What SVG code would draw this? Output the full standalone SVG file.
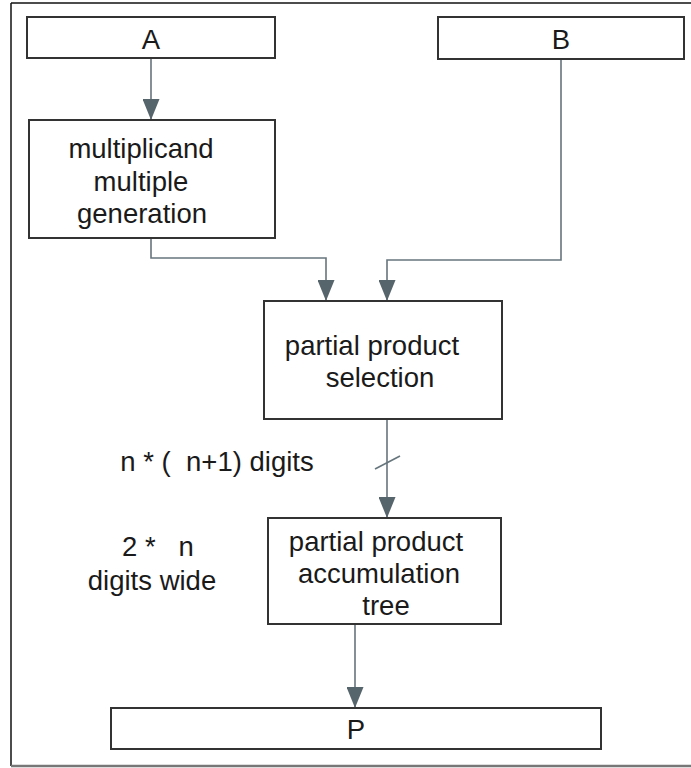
<svg xmlns="http://www.w3.org/2000/svg" width="691" height="768" viewBox="0 0 691 768">
  <style>
    .box { fill: #ffffff; stroke: #333333; stroke-width: 2; }
    .lbl { font-family: "Liberation Sans", Arial, sans-serif; font-size: 27.5px; fill: #1a1a1a; text-anchor: middle; white-space: pre; }
    .wire { fill: none; stroke: #66757c; stroke-width: 1.6; }
  </style>
  <defs>
    <marker id="arrow" markerUnits="userSpaceOnUse" markerWidth="21" markerHeight="17" viewBox="0 0 21 17" refX="21" refY="8.5" orient="auto">
      <path d="M0,0 L21,8.5 L0,17 Z" fill="#56646b"/>
    </marker>
  </defs>

  <rect width="691" height="768" fill="#ffffff"/>

  <!-- page frame -->
  <g id="frame">
    <line x1="11" y1="3" x2="691" y2="3" stroke="#111111" stroke-width="1.5"/>
    <line x1="11" y1="3" x2="11" y2="766" stroke="#111111" stroke-width="1.5"/>
    <line x1="11" y1="766" x2="691" y2="766" stroke="#777777" stroke-width="2.5"/>
  </g>

  <!-- connectors -->
  <g id="connectors">
    <line class="wire" x1="151" y1="58" x2="151" y2="120" marker-end="url(#arrow)"/>
    <polyline class="wire" points="151,238 151,258 326,258 326,301" marker-end="url(#arrow)"/>
    <polyline class="wire" points="561,59 561,260 387,260 387,301" marker-end="url(#arrow)"/>
    <line class="wire" x1="387" y1="419" x2="387" y2="518" marker-end="url(#arrow)"/>
    <line class="wire" x1="375" y1="469" x2="400" y2="456"/>
    <line class="wire" x1="355" y1="624" x2="355" y2="708" marker-end="url(#arrow)"/>
  </g>

  <g id="node-a">
    <rect class="box" x="27" y="17" width="248" height="41"/>
    <text class="lbl" x="151" y="49">A</text>
  </g>

  <g id="node-b">
    <rect class="box" x="438" y="17" width="246" height="42"/>
    <text class="lbl" x="561" y="49">B</text>
  </g>

  <g id="node-mmg">
    <rect class="box" x="29" y="120" width="246" height="118"/>
    <text class="lbl" x="141" y="158">multiplicand</text>
    <text class="lbl" x="141" y="191">multiple</text>
    <text class="lbl" x="142" y="223">generation</text>
  </g>

  <g id="node-pps">
    <rect class="box" x="264" y="301" width="238" height="118"/>
    <text class="lbl" x="372" y="355">partial product</text>
    <text class="lbl" x="380" y="387">selection</text>
  </g>

  <g id="label-digits">
    <text class="lbl" x="217" y="471">n * (  n+1) digits</text>
  </g>

  <g id="label-width">
    <text class="lbl" x="158" y="556">2 *   n</text>
    <text class="lbl" x="152" y="590">digits wide</text>
  </g>

  <g id="node-ppat">
    <rect class="box" x="268" y="518" width="233" height="106"/>
    <text class="lbl" x="376" y="551">partial product</text>
    <text class="lbl" x="379" y="583">accumulation</text>
    <text class="lbl" x="386" y="615">tree</text>
  </g>

  <g id="node-p">
    <rect class="box" x="111" y="708" width="490" height="41"/>
    <text class="lbl" x="356" y="739">P</text>
  </g>
</svg>
